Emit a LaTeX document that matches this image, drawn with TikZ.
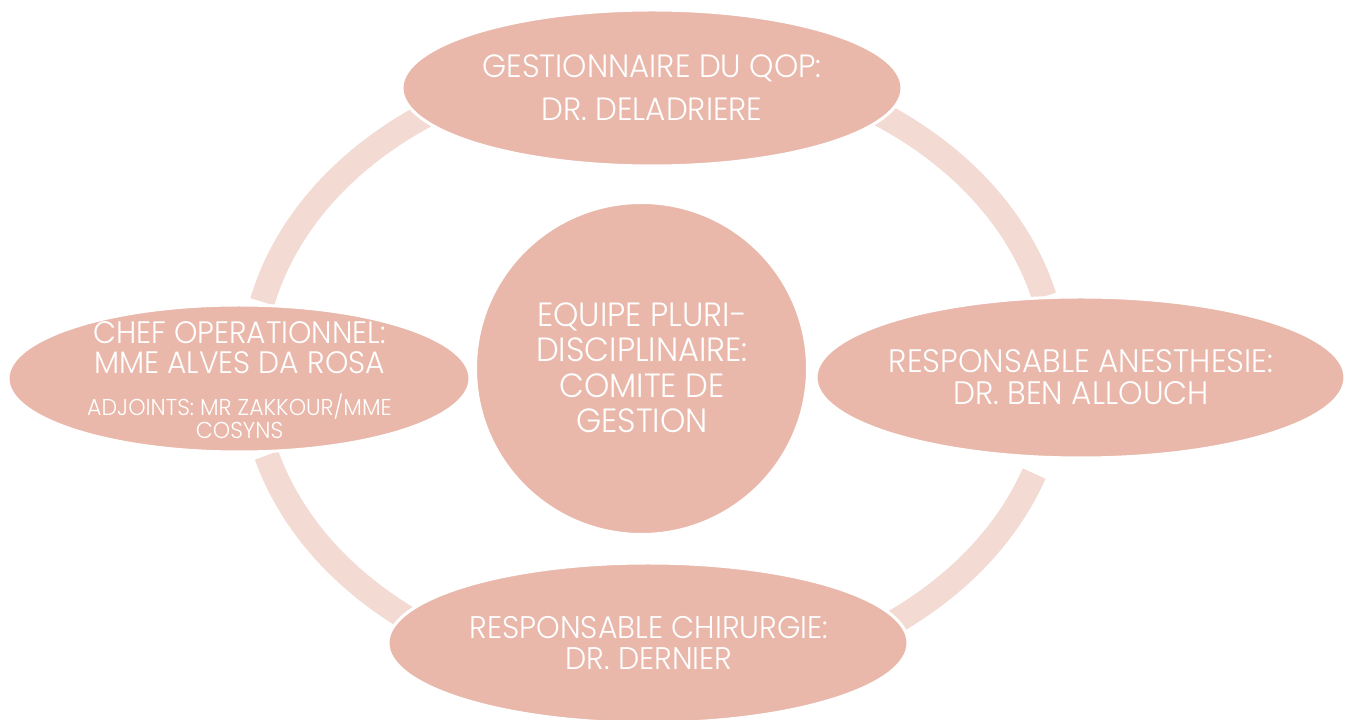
\documentclass[tikz,border=0pt]{standalone}
\usepackage{fontspec}
\setmainfont{Poppins Light}[FakeStretch=0.96]
\usetikzlibrary{shapes.geometric,calc}
\definecolor{fillc}{RGB}{233,184,171}
\definecolor{ringc}{RGB}{243,218,211}
\begin{document}
\begin{tikzpicture}[x=1pt,y=1pt,
  bub/.style={ellipse, fill=fillc, draw=white, line width=3pt, inner sep=0pt},
  ring/.style={draw=ringc, line width=25pt},
  lbl/.style={text=white, align=center, inner sep=0pt}]
\useasboundingbox (0,0) rectangle (1347,720);
\coordinate (rc) at (654,348);
% connecting ring arcs
\draw[ring] ($(rc)+(167:402pt and 312pt)$) arc[start angle=167, end angle=115, x radius=402pt, y radius=312pt];
\draw[ring] ($(rc)+(63:402pt and 312pt)$) arc[start angle=63, end angle=14, x radius=402pt, y radius=312pt];
\draw[ring] ($(rc)+(-19:402pt and 312pt)$) arc[start angle=-19, end angle=-58, x radius=402pt, y radius=312pt];
\draw[ring] ($(rc)+(-122:402pt and 312pt)$) arc[start angle=-122, end angle=-164.5, x radius=402pt, y radius=312pt];
% shapes
\node[bub, minimum width=500pt, minimum height=156pt] (top) at (652,632) {};
\node[bub, minimum width=462pt, minimum height=147pt] (left) at (239,341.5) {};
\node[bub, minimum width=529pt, minimum height=161pt] (right) at (1080.5,342.5) {};
\node[bub, minimum width=520pt, minimum height=160pt] (bot) at (648,77) {};
\node[circle, fill=fillc, draw=white, line width=3pt, minimum size=332pt, inner sep=0pt] (ctr) at (641.5,351.5) {};
% labels
\node[lbl, font=\fontsize{32.2}{43}\selectfont] (topT) at (652,632.5) {GESTIONNAIRE DU QOP:\\DR. DELADRIERE};
\node[lbl, font=\fontsize{33.6}{35.5}\selectfont] (ctrT) at (642,352.5) {EQUIPE PLURI-\\DISCIPLINAIRE:\\COMITE DE\\GESTION};
\node[lbl, font=\fontsize{32.5}{32}\selectfont] (rightT) at (1081,343) {RESPONSABLE ANESTHESIE:\\DR. BEN ALLOUCH};
\node[lbl, font=\fontsize{31.3}{31}\selectfont] (botT) at (649,76.5) {RESPONSABLE CHIRURGIE:\\DR. DERNIER};
\node[lbl, font=\fontsize{31}{30}\selectfont] (leftT) at (239.5,372.5) {CHEF OPERATIONNEL:\\MME ALVES DA ROSA};
\node[lbl, font=\fontsize{23}{23}\selectfont] (leftS) at (239.5,304) {ADJOINTS: MR ZAKKOUR/MME\\COSYNS};
\end{tikzpicture}
\end{document}
